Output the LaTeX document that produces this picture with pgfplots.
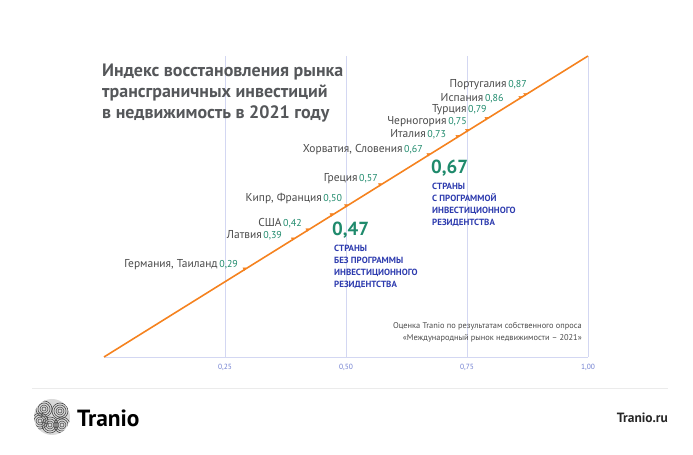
\documentclass[border=0pt]{standalone}
\usepackage{pgfplots}
\pgfplotsset{compat=1.18}
\usepackage{fontspec}
\setmainfont{PT Sans}
\definecolor{orng}{HTML}{F5821F}
\definecolor{grn}{HTML}{1F8A6C}
\definecolor{blu}{HTML}{2D3BAE}
\definecolor{grd}{HTML}{D3D7F2}
\definecolor{tck}{HTML}{6F7ED0}
\definecolor{ttl}{HTML}{55575A}
\definecolor{lbl}{HTML}{4A4A4A}
\newcommand{\lab}[2]{{\fontsize{11.5}{12}\selectfont\color{lbl}#1}\,{\fontsize{10}{12}\selectfont\color{grn}#2}}
\begin{document}
\begin{tikzpicture}[x=1bp,y=1bp]
\useasboundingbox (0,0) rectangle (693,455);
\begin{axis}[
  at={(104bp,98bp)}, anchor=south west,
  width=484bp, height=301bp, scale only axis,
  xmin=0, xmax=1, ymin=0, ymax=1,
  clip=false,
  axis x line*=bottom, hide y axis,
  x axis line style={draw=grd, line width=0.8pt, -},
  xtick={0.25,0.5,0.75,1},
  xticklabels={{0,25},{0,50},{0,75},{1,00}},
  major tick length=0pt,
  xmajorgrids, grid style={draw=grd, line width=0.8pt},
  x tick label style={font=\fontsize{7.5}{9}\selectfont, text=tck, yshift=-4pt},
  /pgf/number format/assume math mode=true,
]
\addplot[orng, line width=1.6pt, no marks] coordinates {(0,0) (1,1)};
\addplot[only marks, mark=triangle*, mark size=1.7pt, color=orng, mark options={rotate=180, yshift=-1pt}] coordinates {
(0.29,0.29) (0.39,0.39) (0.42,0.42) (0.47,0.47) (0.50,0.50) (0.57,0.57) (0.67,0.67) (0.73,0.73) (0.75,0.75) (0.79,0.79) (0.86,0.86) (0.87,0.87)};
\node[anchor=east, inner sep=0] at (axis cs:0.277,0.306) {\lab{Германия, Таиланд}{0,29}};
\node[anchor=east, inner sep=0] at (axis cs:0.368,0.405) {\lab{Латвия}{0,39}};
\node[anchor=east, inner sep=0] at (axis cs:0.409,0.445) {\lab{США}{0,42}};
\node[anchor=east, inner sep=0] at (axis cs:0.492,0.525) {\lab{Кипр, Франция}{0,50}};
\node[anchor=east, inner sep=0] at (axis cs:0.566,0.591) {\lab{Греция}{0,57}};
\node[anchor=east, inner sep=0] at (axis cs:0.659,0.688) {\lab{Хорватия, Словения}{0,67}};
\node[anchor=east, inner sep=0] at (axis cs:0.707,0.741) {\lab{Италия}{0,73}};
\node[anchor=east, inner sep=0] at (axis cs:0.750,0.781) {\lab{Черногория}{0,75}};
\node[anchor=east, inner sep=0] at (axis cs:0.791,0.821) {\lab{Турция}{0,79}};
\node[anchor=east, inner sep=0] at (axis cs:0.826,0.860) {\lab{Испания}{0,86}};
\node[anchor=east, inner sep=0] at (axis cs:0.874,0.904) {\lab{Португалия}{0,87}};
\end{axis}
% titles
\node[anchor=base west, inner sep=0, text=ttl, align=left, font=\fontsize{18}{21.5}\selectfont\bfseries] at (102,336)
 {Индекс восстановления рынка\\трансграничных инвестиций\\в недвижимость в 2021 году};
% group annotations
\node[anchor=west, inner sep=0, text=grn, font=\fontsize{19}{20}\selectfont\bfseries] at (332,225) {0,47};
\node[anchor=north west, inner sep=0, text=blu, align=left, font=\fontsize{9}{12}\selectfont\bfseries] at (334,210)
 {СТРАНЫ\\БЕЗ ПРОГРАММЫ\\ИНВЕСТИЦИОННОГО\\РЕЗИДЕНТСТВА};
\node[anchor=west, inner sep=0, text=grn, font=\fontsize{19}{20}\selectfont\bfseries] at (431,287) {0,67};
\node[anchor=north west, inner sep=0, text=blu, align=left, font=\fontsize{9}{12}\selectfont\bfseries] at (432,272)
 {СТРАНЫ\\С ПРОГРАММОЙ\\ИНВЕСТИЦИОННОГО\\РЕЗИДЕНТСТВА};
% source note
\node[anchor=north east, inner sep=0, text=lbl, align=right, font=\fontsize{8.4}{12}\selectfont] at (582,133)
 {Оценка Tranio по результатам собственного опроса\\«Международный рынок недвижимости – 2021»};
% footer
\draw[draw=black!8, line width=0.6pt] (32,67) -- (668,67);
\begin{scope}
\clip (52,38) circle (18);
\fill[black!15] (52,38) circle (18);
\foreach \cx/\cy in {44/46,60/44,50/30,62/30,40/34} {
  \foreach \r in {2,4,6,8} { \draw[black!70, line width=0.6pt] (\cx,\cy) circle (\r); }
}
\end{scope}
\node[anchor=west, inner sep=0, font=\fontsize{23.5}{25}\selectfont\bfseries] at (77,37) {Tranio};
\node[anchor=east, inner sep=0, text=black!85, font=\fontsize{13.5}{15}\selectfont\bfseries] at (668,37) {Tranio.ru};
\end{tikzpicture}
\end{document}
